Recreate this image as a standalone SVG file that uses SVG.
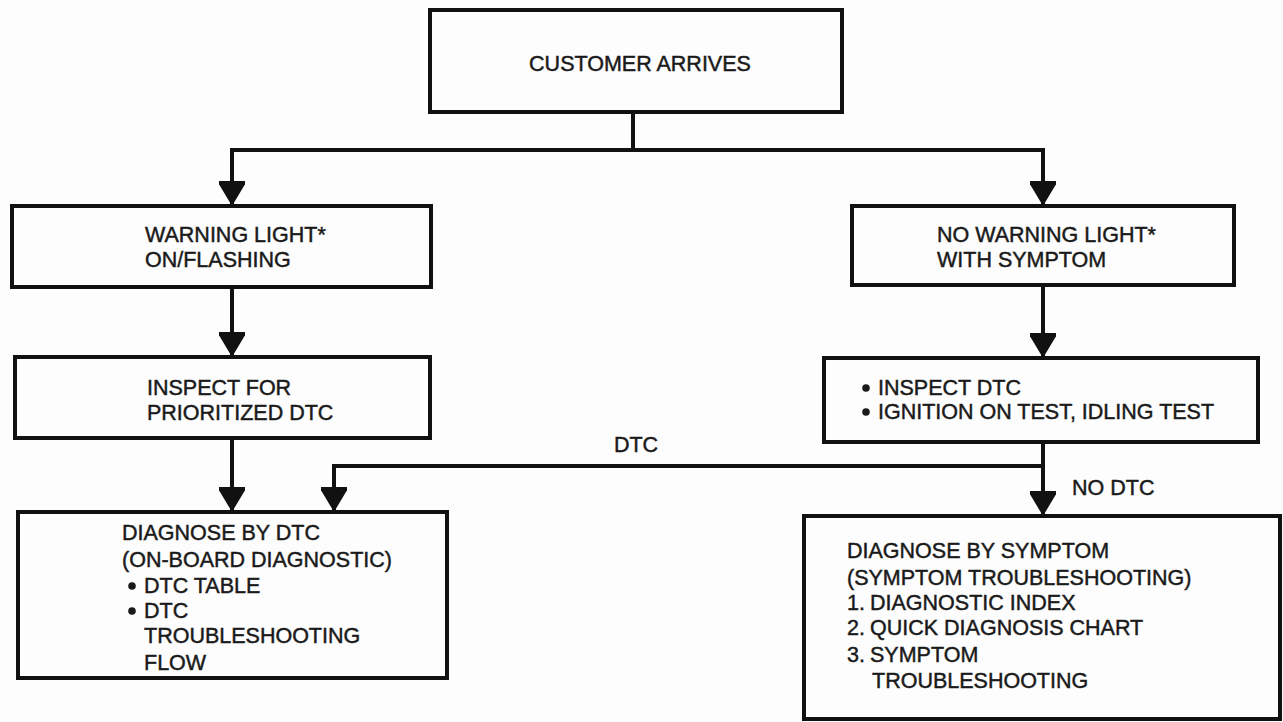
<svg xmlns="http://www.w3.org/2000/svg" width="1283" height="722" viewBox="0 0 1283 722">
  <style>
    .box { fill: #fdfdfd; stroke: #111; stroke-width: 4; }
    .wire { fill: none; stroke: #111; stroke-width: 4; }
    .lbl { font-family: "Liberation Sans", Arial, Helvetica, sans-serif; font-size: 21.5px; fill: #1a1a1a; stroke: #1a1a1a; stroke-width: 0.45; }
    .mid { text-anchor: middle; }
    .dot { fill: #1a1a1a; }
  </style>
  <defs>
    <!-- solid downward arrowhead, tip at the path end -->
    <marker id="head" markerUnits="userSpaceOnUse" markerWidth="32" markerHeight="26" viewBox="0 0 32 26" refX="24" refY="13" orient="auto">
      <path d="M0 -2 L25 13 L0 28 Z" fill="#111"/>
    </marker>
  </defs>
  <rect width="1283" height="722" fill="#fdfdfd"/>

  <!-- connectors -->
  <g id="connectors">
    <path class="wire" d="M633 112 V150"/>
    <path class="wire" d="M230 150 H1045"/>
    <path class="wire" d="M232 150 V205" marker-end="url(#head)"/>
    <path class="wire" d="M1043 150 V205" marker-end="url(#head)"/>
    <path class="wire" d="M232 287 V356" marker-end="url(#head)"/>
    <path class="wire" d="M1043 285 V357" marker-end="url(#head)"/>
    <path class="wire" d="M232 438 V511" marker-end="url(#head)"/>
    <path class="wire" d="M1043 442 V515" marker-end="url(#head)"/>
    <path class="wire" d="M1043 466 H334 V511" marker-end="url(#head)"/>
    <text class="lbl mid" x="636" y="452">DTC</text>
    <text class="lbl" x="1072" y="495">NO DTC</text>
  </g>

  <!-- start -->
  <g id="customer-arrives">
    <rect class="box" x="430" y="10" width="412" height="102"/>
    <text class="lbl mid" x="640" y="71">CUSTOMER ARRIVES</text>
  </g>

  <!-- left branch -->
  <g id="warning-light-on">
    <rect class="box" x="12" y="206" width="419" height="81"/>
    <text class="lbl" x="145" y="242">WARNING LIGHT*</text>
    <text class="lbl" x="145" y="267">ON/FLASHING</text>
  </g>

  <g id="inspect-prioritized-dtc">
    <rect class="box" x="15" y="357" width="415" height="81"/>
    <text class="lbl" x="147" y="395">INSPECT FOR</text>
    <text class="lbl" x="147" y="420">PRIORITIZED DTC</text>
  </g>

  <g id="diagnose-by-dtc">
    <rect class="box" x="18" y="512" width="429" height="166"/>
    <text class="lbl" x="122" y="540">DIAGNOSE BY DTC</text>
    <text class="lbl" x="122" y="567">(ON-BOARD DIAGNOSTIC)</text>
    <circle class="dot" cx="132" cy="586" r="3.8"/>
    <text class="lbl" x="144" y="593">DTC TABLE</text>
    <circle class="dot" cx="132" cy="611" r="3.8"/>
    <text class="lbl" x="144" y="618">DTC</text>
    <text class="lbl" x="144" y="643">TROUBLESHOOTING</text>
    <text class="lbl" x="144" y="670">FLOW</text>
  </g>

  <!-- right branch -->
  <g id="no-warning-light">
    <rect class="box" x="852" y="206" width="382" height="79"/>
    <text class="lbl" x="937" y="242">NO WARNING LIGHT*</text>
    <text class="lbl" x="937" y="267">WITH SYMPTOM</text>
  </g>

  <g id="inspect-dtc-tests">
    <rect class="box" x="824" y="358" width="434" height="84"/>
    <circle class="dot" cx="866" cy="388" r="3.8"/>
    <text class="lbl" x="878" y="395">INSPECT DTC</text>
    <circle class="dot" cx="866" cy="412" r="3.8"/>
    <text class="lbl" x="878" y="419">IGNITION ON TEST, IDLING TEST</text>
  </g>

  <g id="diagnose-by-symptom">
    <rect class="box" x="804" y="516" width="476" height="203"/>
    <text class="lbl" x="847" y="558">DIAGNOSE BY SYMPTOM</text>
    <text class="lbl" x="847" y="585">(SYMPTOM TROUBLESHOOTING)</text>
    <text class="lbl" x="847" y="610">1.</text>
    <text class="lbl" x="870" y="610">DIAGNOSTIC INDEX</text>
    <text class="lbl" x="847" y="635">2.</text>
    <text class="lbl" x="870" y="635">QUICK DIAGNOSIS CHART</text>
    <text class="lbl" x="847" y="662">3.</text>
    <text class="lbl" x="870" y="662">SYMPTOM</text>
    <text class="lbl" x="872" y="688">TROUBLESHOOTING</text>
  </g>
</svg>
